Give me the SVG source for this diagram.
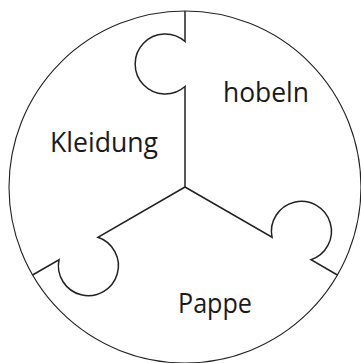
<svg xmlns="http://www.w3.org/2000/svg" width="361" height="363" viewBox="0 0 361 363">
<defs>
<style>
.outline{fill:#fff;stroke:#222;stroke-width:1.1}
.cut{fill:none;stroke:#222;stroke-width:1.5;stroke-linejoin:miter}
.lbl{font-family:"Open Sans","Liberation Sans",sans-serif;font-size:27.5px;fill:#1a1a1a;text-anchor:middle}
</style>
<path id="arm" d="M185,187 L185,86.5 A30,30 0 1 1 185,41.5 L185,11"/>
</defs>
<rect width="361" height="363" fill="#fff"/>
<circle class="outline" cx="185" cy="187" r="176"/>
<g id="connectors">
<use href="#arm" class="cut"/>
<use href="#arm" class="cut" transform="rotate(120 185 187)"/>
<use href="#arm" class="cut" transform="rotate(240 185 187)"/>
</g>
<g id="piece-hobeln"><text class="lbl" x="266" y="101.5" textLength="86" lengthAdjust="spacingAndGlyphs">hobeln</text></g>
<g id="piece-kleidung"><text class="lbl" x="104" y="152" textLength="108" lengthAdjust="spacingAndGlyphs">Kleidung</text></g>
<g id="piece-pappe"><text class="lbl" x="215" y="312.5" textLength="74" lengthAdjust="spacingAndGlyphs">Pappe</text></g>
</svg>
